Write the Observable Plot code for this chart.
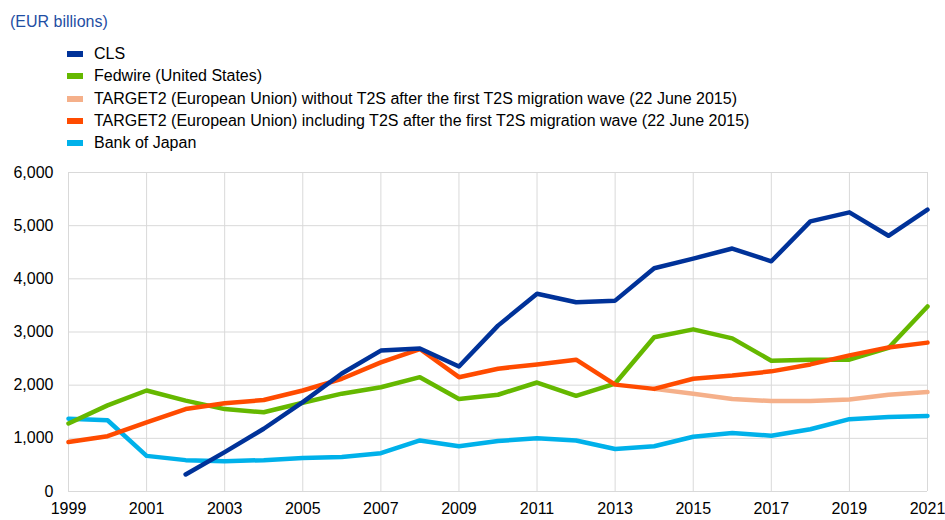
<!DOCTYPE html>
<html>
<head>
<meta charset="utf-8">
<script src="https://cdn.jsdelivr.net/npm/d3@7"></script>
<script src="https://cdn.jsdelivr.net/npm/@observablehq/plot@0.6"></script>
<style>
  html, body { margin: 0; padding: 0; background: #fff; }
  body { width: 945px; height: 520px; position: relative; font-family: "Liberation Sans", Arial, sans-serif; overflow: hidden; }
  #title { position: absolute; left: 10px; top: 13px; font-size: 16px; color: #1f4ea3; }
  #legend { position: absolute; left: 67px; top: 43px; font-size: 16px; color: #000; }
  .row { height: 22.3px; display: flex; align-items: center; }
  .sw { width: 16px; height: 6px; margin-right: 11px; }
  #chart { position: absolute; left: 0; top: 155px; }
</style>
</head>
<body>
<div id="title">(EUR billions)</div>
<div id="legend"></div>
<div id="chart"></div>
<script>
const years = d3.range(1999, 2022);
const seriesNames = [
  "CLS",
  "Fedwire (United States)",
  "TARGET2 (European Union) without T2S after the first T2S migration wave (22 June 2015)",
  "TARGET2 (European Union) including T2S after the first T2S migration wave (22 June 2015)",
  "Bank of Japan"
];
const seriesColors = ["#003299", "#65b800", "#f5b08a", "#ff4b00", "#00b1ea"];

// values per year 1999..2021 (null = no data)
const cls = [null, null, null, 320, 740, 1180, 1680, 2220, 2650, 2690, 2350, 3120, 3720, 3560, 3590, 4200, 4380, 4570, 4330, 5080, 5250, 4810, 5300];
const fedwire = [1280, 1620, 1900, 1710, 1550, 1490, 1670, 1840, 1960, 2150, 1740, 1820, 2050, 1800, 2030, 2900, 3050, 2880, 2460, 2480, 2480, 2700, 3480];
const t2Without = [null, null, null, null, null, null, null, null, null, null, null, null, null, null, null, 1930, 1840, 1740, 1700, 1700, 1730, 1820, 1870];
const t2Including = [930, 1040, 1300, 1550, 1660, 1720, 1900, 2120, 2430, 2680, 2150, 2310, 2390, 2480, 2010, 1930, 2120, 2180, 2260, 2390, 2560, 2710, 2800];
const boj = [1370, 1340, 670, 590, 570, 590, 630, 650, 720, 960, 850, 950, 1000, 960, 800, 850, 1030, 1100, 1050, 1170, 1360, 1400, 1420];

const xTicks = d3.range(1999, 2022, 2);
const yTicks = [0, 1000, 2000, 3000, 4000, 5000, 6000];

// legend
const legend = document.getElementById("legend");
seriesNames.forEach((n, i) => {
  const r = document.createElement("div");
  r.className = "row";
  r.innerHTML = `<div class="sw" style="background:${seriesColors[i]}"></div><span>${n}</span>`;
  legend.appendChild(r);
});

const allValues = [cls, fedwire, t2Without, t2Including, boj];
const drawOrder = [2, 4, 1, 3, 0];
const rows = [];
drawOrder.forEach(si => {
  years.forEach((y, j) => {
    const v = allValues[si][j];
    if (v != null) rows.push({ year: y, value: v, series: seriesNames[si], order: si });
  });
});

const chart = Plot.plot({
  width: 945,
  height: 365,
  marginLeft: 68,
  marginRight: 18,
  marginTop: 17,
  marginBottom: 29,
  style: { fontFamily: "Liberation Sans, Arial, sans-serif", fontSize: "16px", color: "#000", background: "transparent" },
  x: { domain: [1999, 2021], ticks: xTicks, tickFormat: d => String(d), tickSize: 0, label: null },
  y: { domain: [0, 6000], ticks: yTicks, tickFormat: d3.format(","), tickSize: 0, label: null },
  color: { domain: seriesNames, range: seriesColors },
  marks: [
    Plot.gridX(xTicks, { stroke: "#d9d9d9", strokeOpacity: 1, strokeWidth: 1 }),
    Plot.gridY(yTicks, { stroke: "#d9d9d9", strokeOpacity: 1, strokeWidth: 1 }),
    Plot.axisX({ ticks: xTicks, tickFormat: d => String(d), tickSize: 0, tickPadding: 11, fontSize: 16, fill: "#000" }),
    Plot.axisY({ ticks: yTicks, tickFormat: d3.format(","), tickSize: 0, tickPadding: 15, fontSize: 16, fill: "#000" }),
    ...drawOrder.map(si => Plot.line(rows.filter(r => r.order === si), {
      x: "year", y: "value", stroke: seriesColors[si], strokeWidth: 4.5, strokeLinejoin: "round", strokeLinecap: "round"
    }))
  ]
});
document.getElementById("chart").appendChild(chart);
</script>
</body>
</html>
